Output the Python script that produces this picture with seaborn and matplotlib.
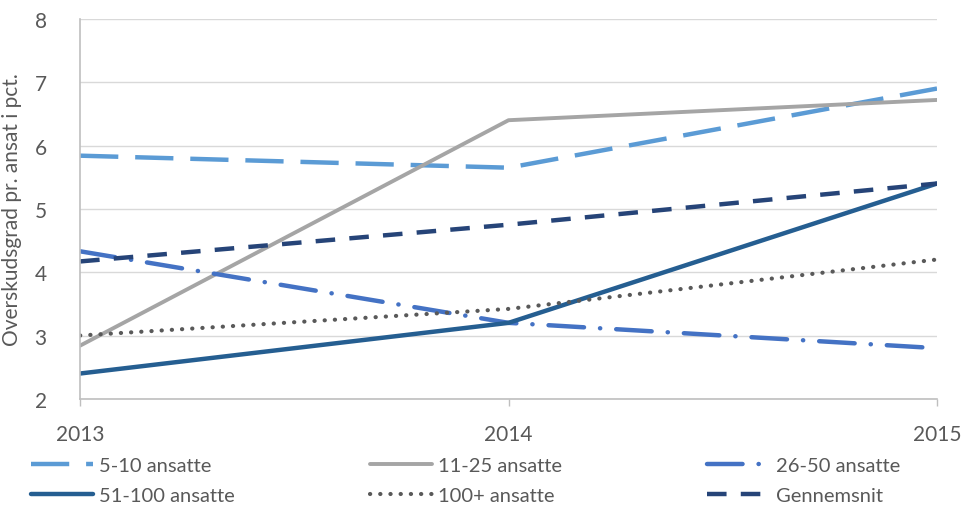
import matplotlib
matplotlib.use("Agg")
import matplotlib.pyplot as plt
import seaborn as sns
import pandas as pd

# Data
years = [2013, 2014, 2015]
series_names = ["5-10 ansatte", "11-25 ansatte", "26-50 ansatte",
                "51-100 ansatte", "100+ ansatte", "Gennemsnit"]
v_5_10 = [5.84, 5.65, 6.90]
v_11_25 = [2.84, 6.40, 6.72]
v_26_50 = [4.33, 3.20, 2.80]
v_51_100 = [2.40, 3.20, 5.40]
v_100p = [3.00, 3.42, 4.20]
v_avg = [4.17, 4.75, 5.40]
values = [v_5_10, v_11_25, v_26_50, v_51_100, v_100p, v_avg]
y_ticks = [2, 3, 4, 5, 6, 7, 8]
y_label = "Overskudsgrad pr. ansat i pct."

df = pd.DataFrame({
    "År": [y for _ in series_names for y in years],
    "Værdi": [v for vals in values for v in vals],
    "Gruppe": [n for n in series_names for _ in years],
})

colors = {
    "5-10 ansatte": "#5B9BD5",
    "11-25 ansatte": "#A5A5A5",
    "26-50 ansatte": "#4472C4",
    "51-100 ansatte": "#255E91",
    "100+ ansatte": "#595959",
    "Gennemsnit": "#264478",
}
dashes = {
    "5-10 ansatte": (8.6, 3.8),
    "11-25 ansatte": "",
    "26-50 ansatte": (8.0, 3.6, 0.05, 3.6),
    "51-100 ansatte": "",
    "100+ ansatte": (0.05, 2.4),
    "Gennemsnit": (4.4, 3.2),
}
round_caps = {"26-50 ansatte", "100+ ansatte"}
widths = {
    "5-10 ansatte": 3.2,
    "11-25 ansatte": 2.8,
    "26-50 ansatte": 3.2,
    "51-100 ansatte": 3.2,
    "100+ ansatte": 3.0,
    "Gennemsnit": 3.2,
}

sns.set_theme(style="white")
plt.rcParams["font.family"] = ["Lato", "DejaVu Sans"]
text_color = "#595959"

fig = plt.figure(figsize=(9.65, 5.10), dpi=100)
ax = fig.add_axes([0.083, 0.216, 0.888, 0.745])

handles = {}
for name in series_names:
    sub = df[df["Gruppe"] == name]
    sns.lineplot(data=sub, x="År", y="Værdi", ax=ax, color=colors[name],
                 linewidth=widths[name], legend=False, estimator=None)
    line = ax.lines[-1]
    if dashes[name]:
        line.set_dashes(dashes[name])
    if name in round_caps:
        line.set_dash_capstyle("round")
    line.set_label(name)
    handles[name] = line

ax.set_xlim(years[0], years[-1])
ax.set_ylim(y_ticks[0], y_ticks[-1])
ax.set_xticks(years)
ax.set_xticklabels([str(y) for y in years])
ax.set_yticks(y_ticks)
ax.set_yticklabels([str(t) for t in y_ticks])
ax.grid(axis="y", color="#D9D9D9", linewidth=1)
ax.set_axisbelow(True)
for s in ["top", "right"]:
    ax.spines[s].set_visible(False)
for s in ["left", "bottom"]:
    ax.spines[s].set_color("#BFBFBF")
    ax.spines[s].set_linewidth(1.2)
ax.tick_params(axis="x", length=5, width=1, color="#BFBFBF", pad=13,
               labelsize=15, labelcolor=text_color, direction="out", bottom=True)
ax.tick_params(axis="y", length=0, pad=24, labelsize=15, labelcolor=text_color)
ax.set_xlabel("")
ax.set_ylabel(y_label, fontsize=15, color=text_color, labelpad=9)

# Legend: three columns of two entries each, laid out under the axes
columns = [["5-10 ansatte", "51-100 ansatte"],
           ["11-25 ansatte", "100+ ansatte"],
           ["26-50 ansatte", "Gennemsnit"]]
col_x = [0.032, 0.383, 0.733]
for names, x0 in zip(columns, col_x):
    fig.legend([handles[n] for n in names], names, frameon=False,
               loc="center left", bbox_to_anchor=(x0, 0.056),
               fontsize=14.5, labelcolor=text_color, handlelength=3.1,
               handletextpad=0.3, labelspacing=0.62,
               borderpad=0, borderaxespad=0)

fig.savefig("out.png", dpi=100)
